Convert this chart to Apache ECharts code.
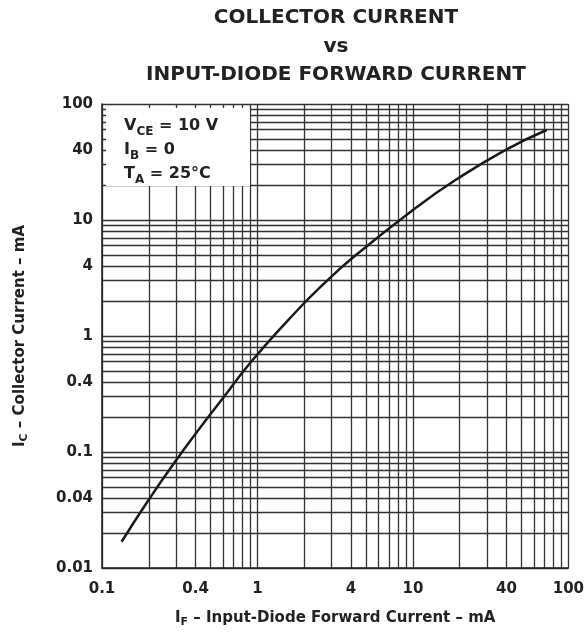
<!DOCTYPE html>
<html>
<head>
<meta charset="utf-8">
<script src="https://cdn.jsdelivr.net/npm/echarts@6/dist/echarts.min.js"></script>
<style>
  html, body { margin: 0; padding: 0; background: #fff; }
  #main { width: 587px; height: 633px; }
</style>
</head>
<body>
<div id="main"></div>
<script>
// I_F (mA) vs I_C (mA)
var ifValues = [0.1337, 0.1934, 0.2865, 0.4574, 0.599, 0.911, 1.813, 2.622, 4.186, 10.66, 18.78, 39.28, 72.6];
var icValues = [0.01685, 0.0363, 0.0781, 0.1825, 0.2904, 0.600, 1.675, 2.753, 4.84, 13.0, 22.1, 40.1, 59.7];

// tick labels
var xLabels = [0.1, 0.4, 1, 4, 10, 40, 100];
var yLabels = [0.01, 0.04, 0.1, 0.4, 1, 4, 10, 40, 100];

// log grid lines: 1..9 in every decade
function logGrid(from, to) {
  var out = [];
  for (var d = from; d < to * 0.999; d *= 10) {
    for (var k = 1; k <= 9; k++) out.push(+(d * k).toPrecision(3));
  }
  out.push(to);
  return out;
}
var xGrid = logGrid(0.1, 100);
var yGrid = logGrid(0.01, 100);

var curve = ifValues.map(function (v, i) { return [v, icValues[i]]; });

var FONT = 'DejaVu Sans';
var fmt = function (v) { return String(+(+v).toPrecision(3)); };
var gridLine = { show: true, lineStyle: { color: '#333', width: 1.3 } };

function nameStyle() {
  return {
    rich: {
      a: { fontFamily: FONT, fontWeight: 'bold', fontSize: 15, color: '#222', lineHeight: 20 },
      s: { fontFamily: FONT, fontWeight: 'bold', fontSize: 11, color: '#222', lineHeight: 10, verticalAlign: 'bottom' }
    }
  };
}

var myChart = echarts.init(document.getElementById('main'));
myChart.setOption({
  animation: false,
  backgroundColor: '#fff',
  grid: { left: 102, right: 17, top: 104, bottom: 65, containLabel: false },
  xAxis: {
    type: 'log', logBase: 10, min: 0.1, max: 100,
    name: '{a|I}{s|F}{a| – Input-Diode Forward Current – mA}',
    nameLocation: 'middle', nameGap: 40,
    nameTextStyle: nameStyle(),
    axisLine: { show: true, onZero: false, lineStyle: { color: '#222', width: 1.5 } },
    axisTick: { show: false, customValues: xGrid },
    axisLabel: { customValues: xLabels, formatter: fmt, margin: 14, color: '#222', fontFamily: FONT, fontWeight: 'bold', fontSize: 15 },
    splitLine: gridLine
  },
  yAxis: {
    type: 'log', logBase: 10, min: 0.01, max: 100,
    name: '{a|I}{s|C}{a| – Collector Current – mA}',
    nameLocation: 'middle', nameGap: 72,
    nameTextStyle: nameStyle(),
    axisLine: { show: true, onZero: false, lineStyle: { color: '#222', width: 1.5 } },
    axisTick: { show: false, customValues: yGrid },
    axisLabel: { customValues: yLabels, formatter: fmt, margin: 9, color: '#222', fontFamily: FONT, fontWeight: 'bold', fontSize: 15 },
    splitLine: gridLine
  },
  graphic: [
    // title, centred over the plot
    { type: 'text', x: 336, y: 18, z: 10, style: { text: 'COLLECTOR CURRENT', fill: '#222', font: 'bold 20px "DejaVu Sans"', align: 'center', verticalAlign: 'middle' } },
    { type: 'text', x: 336, y: 47, z: 10, style: { text: 'vs', fill: '#222', font: 'bold 20px "DejaVu Sans"', align: 'center', verticalAlign: 'middle' } },
    { type: 'text', x: 336, y: 75, z: 10, style: { text: 'INPUT-DIODE FORWARD CURRENT', fill: '#222', font: 'bold 20px "DejaVu Sans"', align: 'center', verticalAlign: 'middle' } },
    // conditions box
    { type: 'rect', shape: { x: 106, y: 108, width: 144, height: 78 }, style: { fill: '#fff' }, z: 5 },
    {
      type: 'text', x: 124, y: 114, z: 10,
      style: {
        text: '{a|V}{s|CE}{a| = 10 V}\n{a|I}{s|B}{a| = 0}\n{a|T}{s|A}{a| = 25°C}',
        rich: {
          a: { fontFamily: FONT, fontWeight: 'bold', fontSize: 16, fill: '#222', lineHeight: 24 },
          s: { fontFamily: FONT, fontWeight: 'bold', fontSize: 12, fill: '#222', lineHeight: 12, verticalAlign: 'bottom' }
        }
      }
    }
  ],
  series: [{
    name: 'IC',
    type: 'line',
    smooth: true,
    symbol: 'none',
    z: 8,
    lineStyle: { color: '#1a1a1a', width: 2.5 },
    data: curve
  }]
});
</script>
</body>
</html>
